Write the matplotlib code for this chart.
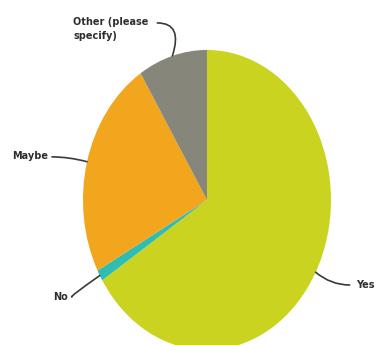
import numpy as np
import matplotlib
matplotlib.use("Agg")
import matplotlib.pyplot as plt

# Survey answers, drawn clockwise from 12 o'clock
categories = ["Yes", "No", "Maybe", "Other (please\nspecify)"]
shares = [66, 1.2, 23.8, 9]
colors = ["#CBD321", "#2EBDB0", "#F2A61E", "#86867A"]

fig = plt.figure(figsize=(3.77, 3.45), dpi=100)
ax = fig.add_axes([0, 0, 1, 1])
wedges, _ = ax.pie(shares, colors=colors, startangle=90, counterclock=False,
                   radius=1.0, wedgeprops=dict(linewidth=0))
ax.set_aspect("auto")
ax.set_xlim(-1.669, 1.371)
ax.set_ylim(-0.967, 1.333)
ax.axis("off")

# label placement: (text x, text y, ha, line start x, line start y, curve angleB)
label_layout = {
    "Yes": (1.205, -0.565, "left", 1.15, -0.567, -40),
    "No": (-1.12, -0.647, "right", -1.09, -0.647, 35),
    "Maybe": (-1.28, 0.29, "right", -1.25, 0.287, -15),
    "Other (please\nspecify)": (-1.08, 1.14, "left", -0.40, 1.18, 72),
}

for w, name in zip(wedges, categories):
    mid = np.deg2rad((w.theta1 + w.theta2) / 2)
    edge = (np.cos(mid), np.sin(mid))
    tx, ty, ha, lx, ly, angb = label_layout[name]
    ax.text(tx, ty, name, ha=ha, va="center", fontsize=7, fontweight="bold",
            family="DejaVu Sans", color="#2e2e2e", linespacing=1.45,
            multialignment="left")
    ax.annotate("", xy=edge, xytext=(lx, ly),
                arrowprops=dict(arrowstyle="-", color="#3a3a3a", lw=1.2,
                                shrinkA=0, shrinkB=0,
                                connectionstyle=f"angle3,angleA=0,angleB={angb}"))

fig.savefig("out.png", dpi=100, facecolor="white")
